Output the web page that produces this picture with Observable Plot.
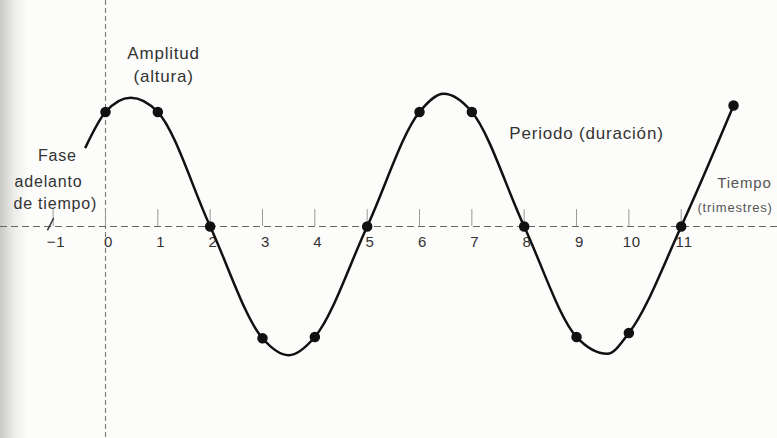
<!DOCTYPE html>
<html>
<head>
<meta charset="utf-8">
<script src="https://cdn.jsdelivr.net/npm/d3@7"></script>
<script src="https://cdn.jsdelivr.net/npm/@observablehq/plot@0.6"></script>
<style>
  html, body { margin: 0; padding: 0; background: #fcfcfa; overflow: hidden; }
  #chart { width: 777px; height: 438px; background: linear-gradient(to right, #c9c9c6 0px, #ecece9 14px, #fcfcfa 28px); }
  svg { font-family: "Liberation Sans", Arial, sans-serif; }
  svg text { letter-spacing: 0.8px; }
</style>
</head>
<body>
<div id="chart"></div>
<script>
// Quarter (t) positions of the marked observations and their values
const pointT = [0, 1, 2, 3, 4, 5, 6, 7, 8, 9, 10, 11, 12];
const pointV = [0.88, 0.88, 0, -0.86, -0.85, 0, 0.88, 0.88, 0, -0.85, -0.82, 0, 0.93];

// Smooth wave (includes crests and troughs)
const curveT = [-0.38, 0, 0.48, 1, 2, 3, 3.5, 4, 5, 6, 6.46, 7, 8, 9, 9.59, 10, 11, 12];
const curveV = [0.61, 0.88, 0.99, 0.88, 0, -0.86, -0.99, -0.85, 0, 0.88, 1.02, 0.88, 0, -0.85, -0.98, -0.82, 0, 0.93];

// Time axis ticks
const tickValues = [-1, 0, 1, 2, 3, 4, 5, 6, 7, 8, 9, 10, 11];
const tickLabels = ["−1", "0", "1", "2", "3", "4", "5", "6", "7", "8", "9", "10", "11"];

// Annotations
const noteText = ["Amplitud", "(altura)", "Periodo (duración)"];
const noteT    = [1.11, 1.11, 9.19];
const noteV    = [1.33, 1.15, 0.715];

const phaseText = ["Fase", "adelanto", "de tiempo)"];
const phaseT    = [-0.92, -1.09, -0.96];
const phaseV    = [0.546, 0.34, 0.177];

const axisNoteText = ["Tiempo", "(trimestres)"];
const axisNoteT = [11.69, 11.31];
const axisNoteV = [0.33, 0.146];
const axisNoteSize = [15, 13];

const pointer = [{t1: -1.11, v1: -0.03, t2: -0.99, v2: 0.065}];

const points = pointT.map((t, i) => ({t, v: pointV[i]}));
const curve = curveT.map((t, i) => ({t, v: curveV[i]}));
const ticks = tickValues.map((t, i) => ({t, label: tickLabels[i]}));
const notes = noteText.map((s, i) => ({s, t: noteT[i], v: noteV[i]}));
const phase = phaseText.map((s, i) => ({s, t: phaseT[i], v: phaseV[i]}));
const axisNotes = axisNoteText.map((s, i) => ({s, t: axisNoteT[i], v: axisNoteV[i], size: axisNoteSize[i]}));

const chart = Plot.plot({
  width: 777,
  height: 438,
  marginTop: 0, marginRight: 0, marginBottom: 0, marginLeft: 0,
  style: {background: "transparent", overflow: "hidden"},
  x: {domain: [-2.006, 12.84], axis: null},
  y: {domain: [-1.631, 1.738], axis: null},
  marks: [
    Plot.ruleX([0], {stroke: "#777", strokeWidth: 1.1, strokeDasharray: "5,3"}),
    Plot.ruleY([0], {stroke: "#666", strokeWidth: 1.1, strokeDasharray: "7,4"}),
    Plot.ruleX(ticks, {x: "t", y1: 0, y2: 0.13, stroke: "#999", strokeWidth: 1}),
    Plot.text(ticks, {x: "t", y: 0, text: "label", dy: 16, dx: 3, fontSize: 15, fill: "#333"}),
    Plot.line(curve, {x: "t", y: "v", curve: "monotone-x", stroke: "#111", strokeWidth: 2.5}),
    Plot.dot(points, {x: "t", y: "v", r: 4.5, fill: "#111", stroke: "#111"}),
    Plot.text(notes, {x: "t", y: "v", text: "s", fontSize: 17, fill: "#333"}),
    Plot.text(phase, {x: "t", y: "v", text: "s", fontSize: 16, fill: "#333"}),
    Plot.text(axisNotes, {x: "t", y: "v", text: "s", textAnchor: "start", fontSize: "size", fill: "#555"}),
    Plot.link(pointer, {x1: "t1", y1: "v1", x2: "t2", y2: "v2", stroke: "#333", strokeWidth: 1.5})
  ]
});
document.getElementById("chart").appendChild(chart);
</script>
</body>
</html>
